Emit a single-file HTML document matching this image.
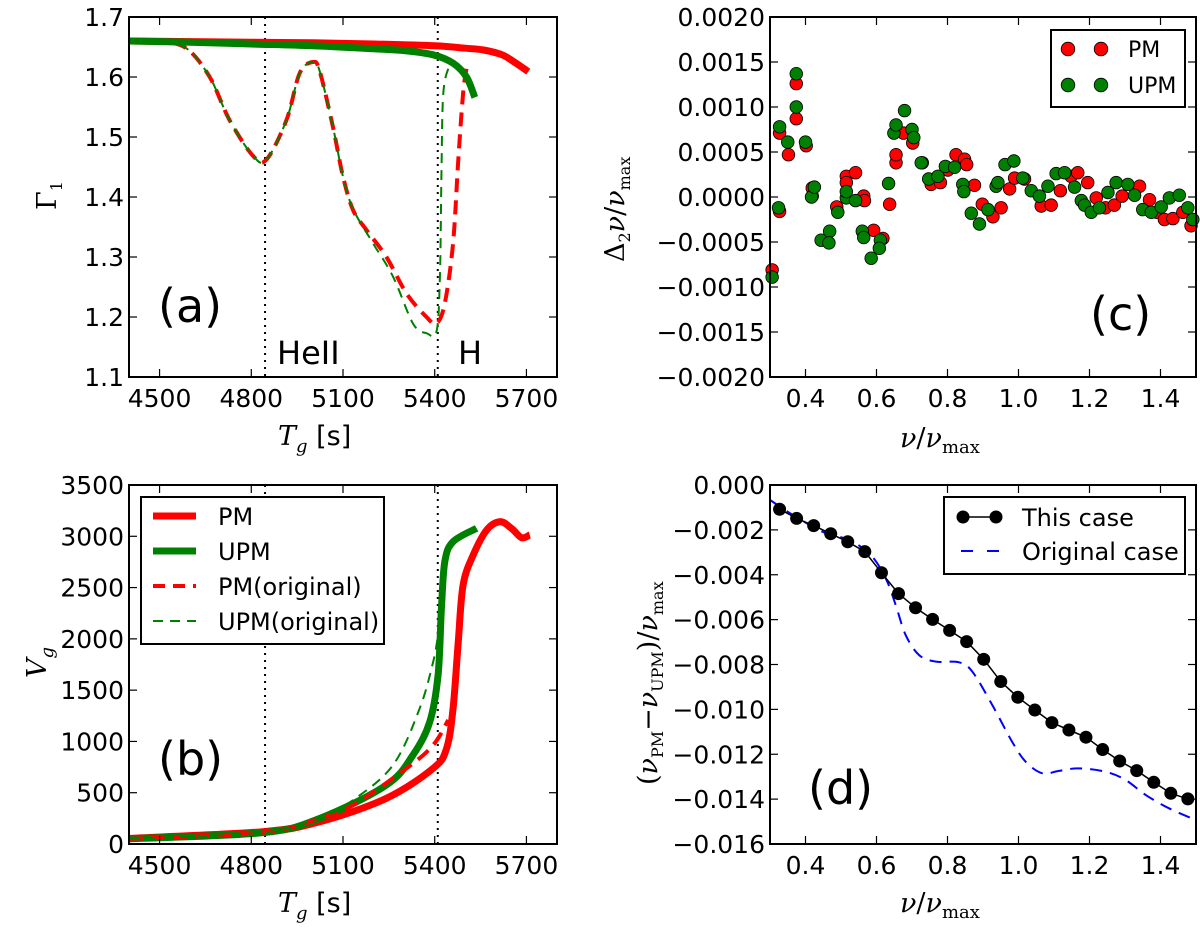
<!DOCTYPE html>
<html><head><meta charset="utf-8"><title>Four-panel figure</title>
<style>
html,body{margin:0;padding:0;background:#fff;}
svg{display:block;}
.tk{font-family:"DejaVu Sans","Liberation Sans",sans-serif;font-size:25px;fill:#000;}
.lg{font-family:"DejaVu Sans","Liberation Sans",sans-serif;font-size:24px;fill:#000;}
.pl{font-family:"DejaVu Sans","Liberation Sans",sans-serif;font-size:46px;fill:#000;}
.mt{font-family:"DejaVu Serif","Liberation Serif",serif;font-size:27px;fill:#000;}
</style></head>
<body>
<svg id="fig" width="1200" height="930" viewBox="0 0 1200 930" xmlns="http://www.w3.org/2000/svg"></svg>
<script>
// ---------- Panel (a): Gamma1 vs Tg ----------
const aPM_T = [4400,4600,4800,5000,5200,5400,5500,5560,5620,5660,5706];
const aPM_G = [1.660,1.659,1.658,1.657,1.655,1.652,1.648,1.645,1.637,1.625,1.609];
const aUPM_T = [4400,4600,4800,5000,5200,5300,5395,5460,5504,5531];
const aUPM_G = [1.660,1.658,1.655,1.652,1.647,1.644,1.637,1.623,1.600,1.566];
const aPMo_T = [4400,4500,4587,4664,4729,4805,4849,4915,4958,5002,5024,5067,5100,5133,5177,5242,5308,5373,5406,5433,5460,5477,5493,5504];
const aPMo_G = [1.660,1.659,1.648,1.600,1.528,1.469,1.462,1.528,1.606,1.625,1.609,1.517,1.434,1.378,1.345,1.300,1.239,1.200,1.189,1.223,1.323,1.462,1.573,1.614];
const aUPMo_T = [4400,4500,4587,4664,4729,4805,4849,4915,4958,5002,5024,5067,5100,5133,5198,5264,5329,5373,5406,5417,5422,5428,5449,5460];
const aUPMo_G = [1.660,1.659,1.648,1.600,1.528,1.469,1.462,1.528,1.606,1.625,1.609,1.517,1.434,1.380,1.323,1.267,1.189,1.173,1.176,1.267,1.434,1.573,1.620,1.622];
const aXTicks = [4500,4800,5100,5400,5700];
const aYTicks = [1.1,1.2,1.3,1.4,1.5,1.6,1.7];
const vLines = [4845,5410];
// ---------- Panel (b): Vg vs Tg ----------
const bPM_T = [4400,4838,5024,5242,5395,5439,5460,5477,5493,5526,5570,5613,5651,5684,5711];
const bPM_V = [55,120,217,446,738,933,1323,1973,2525,2818,3061,3142,3078,2986,3013];
const bUPM_T = [4400,4838,5024,5242,5329,5384,5411,5422,5433,5460,5537];
const bUPM_V = [50,110,250,575,868,1192,1648,2298,2752,2947,3078];
const bPMo_T = [4400,4838,5024,5133,5308,5395,5444];
const bPMo_V = [50,112,250,380,738,965,1209];
const bUPMo_T = [4400,4838,5024,5133,5264,5351,5395,5411];
const bUPMo_V = [50,112,255,429,770,1323,1777,2038];
const bYTicks = [0,500,1000,1500,2000,2500,3000,3500];
// ---------- Panel (c): second differences (units 1e-4) ----------
const cPM_x = [0.306,0.327,0.327,0.352,0.374,0.374,0.402,0.419,0.419,0.488,0.515,0.515,0.541,0.564,0.566,0.592,0.618,0.637,0.655,0.655,0.676,0.702,0.729,0.754,0.780,0.801,0.824,0.848,0.854,0.876,0.898,0.928,0.951,0.975,0.989,1.017,1.064,1.092,1.118,1.148,1.167,1.195,1.219,1.245,1.270,1.292,1.341,1.369,1.390,1.411,1.435,1.463,1.486];
const cPM_y = [-8.1,-1.6,7.1,4.7,8.7,12.6,5.7,1.0,0.1,-1.1,2.3,1.6,2.7,0.1,-0.4,-3.7,-4.6,-0.8,3.8,4.7,7.1,6.0,3.8,1.4,1.6,3.0,4.7,4.2,3.6,1.3,-0.8,-2.2,-1.2,0.9,2.1,2.0,-1.0,-0.9,0.7,2.3,2.7,1.6,-0.1,-1.2,-0.9,0.1,1.2,-0.3,-1.7,-2.5,-2.4,-1.7,-3.2];
const cUPM_x = [0.306,0.324,0.327,0.350,0.374,0.374,0.400,0.417,0.425,0.444,0.468,0.466,0.491,0.515,0.515,0.541,0.560,0.564,0.585,0.611,0.608,0.634,0.649,0.655,0.679,0.700,0.705,0.726,0.747,0.773,0.794,0.820,0.843,0.846,0.867,0.890,0.914,0.937,0.942,0.962,0.987,1.012,1.036,1.059,1.083,1.106,1.130,1.158,1.177,1.186,1.205,1.228,1.252,1.275,1.308,1.327,1.350,1.374,1.402,1.425,1.453,1.477,1.491];
const cUPM_y = [-8.9,-1.2,7.8,6.1,13.7,10.0,6.1,0.0,1.1,-4.8,-3.8,-5.1,-1.7,-0.1,0.6,-0.4,-3.8,-4.5,-6.8,-4.8,-5.7,1.5,7.1,8.0,9.6,7.5,6.6,3.8,2.0,2.3,3.4,3.3,1.4,0.6,-1.8,-3.0,-1.4,1.2,1.6,3.6,4.0,2.1,0.7,0.1,1.2,2.6,2.7,1.1,-0.4,-0.9,-1.7,-1.2,0.5,1.6,1.4,0.2,-1.4,-1.7,-1.1,-0.1,0.2,-1.2,-2.5];
const cYTicks = [-20,-15,-10,-5,0,5,10,15,20];
const cYLabels = ["\u22120.0020","\u22120.0015","\u22120.0010","\u22120.0005","0.0000","0.0005","0.0010","0.0015","0.0020"];
const nuTicks = [0.4,0.6,0.8,1.0,1.2,1.4];
const nuLabels = ["0.4","0.6","0.8","1.0","1.2","1.4"];
// ---------- Panel (d): frequency differences (units 1e-3) ----------
const dThis_x = [0.327,0.375,0.423,0.471,0.519,0.567,0.614,0.662,0.710,0.758,0.806,0.854,0.902,0.950,0.998,1.046,1.094,1.142,1.190,1.237,1.285,1.333,1.381,1.429,1.477];
const dThis_y = [-1.08,-1.49,-1.81,-2.17,-2.53,-2.97,-3.91,-4.84,-5.47,-5.99,-6.48,-6.98,-7.77,-8.76,-9.46,-10.03,-10.59,-10.92,-11.24,-11.79,-12.30,-12.73,-13.25,-13.74,-13.99];
const dOrig_x = [0.300,0.372,0.457,0.523,0.584,0.626,0.654,0.682,0.720,0.767,0.832,0.870,0.926,0.982,1.020,1.067,1.114,1.170,1.246,1.302,1.358,1.424,1.499];
const dOrig_y = [-0.67,-1.41,-2.15,-2.45,-3.12,-4.16,-5.35,-6.68,-7.58,-7.87,-7.90,-8.32,-9.80,-11.44,-12.33,-12.85,-12.74,-12.63,-12.78,-13.15,-13.81,-14.41,-14.93];
const dYTicks = [0,-2,-4,-6,-8,-10,-12,-14,-16];
const dYLabels = ["0.000","\u22120.002","\u22120.004","\u22120.006","\u22120.008","\u22120.010","\u22120.012","\u22120.014","\u22120.016"];

const NS = "http://www.w3.org/2000/svg";
const fig = document.getElementById('fig');
function mk(tag, attrs, parent){ const e=document.createElementNS(NS,tag); for(const k in attrs) e.setAttribute(k,attrs[k]); (parent||fig).appendChild(e); return e; }
function lin(d0,d1,p0,p1){ return v => p0+(v-d0)*(p1-p0)/(d1-d0); }
function pathD(xs,ys,sx,sy,smooth){
  const P=xs.map((v,i)=>[sx(v),sy(ys[i])]);
  if(!smooth) return P.map((p,i)=>(i?'L':'M')+p[0].toFixed(1)+' '+p[1].toFixed(1)).join(' ');
  let d='M'+P[0][0].toFixed(1)+' '+P[0][1].toFixed(1);
  for(let i=0;i<P.length-1;i++){
    const p0=P[Math.max(0,i-1)],p1=P[i],p2=P[i+1],p3=P[Math.min(P.length-1,i+2)];
    const c1=[p1[0]+(p2[0]-p0[0])/6,p1[1]+(p2[1]-p0[1])/6];
    const c2=[p2[0]-(p3[0]-p1[0])/6,p2[1]-(p3[1]-p1[1])/6];
    d+=' C'+c1[0].toFixed(1)+' '+c1[1].toFixed(1)+' '+c2[0].toFixed(1)+' '+c2[1].toFixed(1)+' '+p2[0].toFixed(1)+' '+p2[1].toFixed(1);
  }
  return d;
}

function axes(g,L,T,R,B,sx,sy,xt,xl,yt,yl,name){
  xt.forEach((v,i)=>{
    const x=sx(v);
    const t1=mk('line',{x1:x,y1:B,x2:x,y2:B-8,stroke:'#000','stroke-width':1.2},g);
    
    
    mk('line',{x1:x,y1:T,x2:x,y2:T+8,stroke:'#000','stroke-width':1.2},g);
    const tx=mk('text',{x:x,y:B+30,'text-anchor':'middle',class:'tk'},g);
    tx.textContent=xl[i];
    
    
  });
  yt.forEach((v,i)=>{
    const y=sy(v);
    const t1=mk('line',{x1:L,y1:y,x2:L+8,y2:y,stroke:'#000','stroke-width':1.2},g);
    
    
    mk('line',{x1:R,y1:y,x2:R-8,y2:y,stroke:'#000','stroke-width':1.2},g);
    const tx=mk('text',{x:L-5,y:y+9,'text-anchor':'end',class:'tk'},g);
    tx.textContent=yl[i];
    
    
  });
  const fr=mk('rect',{x:L,y:T,width:R-L,height:B-T,fill:'none',stroke:'#000','stroke-width':2},g);
  
  
}
function clip(id,L,T,R,B){ const d=mk('clipPath',{id:id}); mk('rect',{x:L,y:T,width:R-L,height:B-T},d); }
function line(g,xs,ys,sx,sy,color,w,dash,name,cp,smooth){
  const p=mk('path',{d:pathD(xs,ys,sx,sy,smooth),fill:'none',stroke:color,'stroke-width':w,'stroke-dasharray':dash||'none','stroke-linejoin':'round','clip-path':'url(#'+cp+')'},g);
  
  
  return p;
}
function txt(g,x,y,s,cls,name,extra){ const t=mk('text',Object.assign({x:x,y:y,class:cls},extra||{}),g); t.innerHTML=s;   return t; }

// ===== Panel A =====
(function(){
  const L=129,T=17,R=557,B=377;
  const g=mk('g',{});  
  clip('ca',L,T,R,B);
  const sx=lin(4400,5800,L,R), sy=lin(1.1,1.7,B,T);
  vLines.forEach(v=>{ const l=mk('line',{x1:sx(v),y1:T,x2:sx(v),y2:B,stroke:'#000','stroke-width':2,'stroke-dasharray':'2 5'},g);   });
  line(g,aPMo_T,aPMo_G,sx,sy,'#ff0000',4,'14 8','pm-original-line','ca',true);
  line(g,aUPMo_T,aUPMo_G,sx,sy,'#008000',2,'10 7','upm-original-line','ca',true);
  line(g,aPM_T,aPM_G,sx,sy,'#ff0000',7,null,'pm-line','ca',true);
  line(g,aUPM_T,aUPM_G,sx,sy,'#008000',7,null,'upm-line','ca',true);
  axes(g,L,T,R,B,sx,sy,aXTicks,aXTicks.map(String),aYTicks,aYTicks.map(v=>v.toFixed(1)),'panel-a');
  txt(g,158,322,'(a)','pl','panel-a-label');
  txt(g,277,364,'HeII','pl','heii-label',{style:'font-size:32px'});
  txt(g,458,364,'H','pl','h-label',{style:'font-size:32px'});
  txt(g,278,445,'<tspan font-style="italic">T</tspan><tspan font-style="italic" dy="7" font-size="18">g</tspan><tspan dy="-7" font-family="DejaVu Sans"> [s]</tspan>','mt','x-axis-title-a');
  txt(g,0,0,'Γ<tspan dy="6" font-size="16">1</tspan>','mt','y-axis-title-a',{transform:'translate(56,210) rotate(-90)'});
})();

// ===== Panel B =====
(function(){
  const L=129,T=485,R=557,B=844;
  const g=mk('g',{});  
  clip('cb',L,T,R,B);
  const sx=lin(4400,5800,L,R), sy=lin(0,3500,B,T);
  vLines.forEach(v=>{ const l=mk('line',{x1:sx(v),y1:T,x2:sx(v),y2:B,stroke:'#000','stroke-width':2,'stroke-dasharray':'2 5'},g);   });
  line(g,bPM_T,bPM_V,sx,sy,'#ff0000',7,null,'pm-line','cb',true);
  line(g,bUPM_T,bUPM_V,sx,sy,'#008000',7,null,'upm-line','cb',true);
  line(g,bPMo_T,bPMo_V,sx,sy,'#ff0000',4,'14 8','pm-original-line','cb',true);
  line(g,bUPMo_T,bUPMo_V,sx,sy,'#008000',2,'10 7','upm-original-line','cb',true);
  axes(g,L,T,R,B,sx,sy,aXTicks,aXTicks.map(String),bYTicks,bYTicks.map(String),'panel-b');
  txt(g,158,775,'(b)','pl','panel-b-label');
  txt(g,278,912,'<tspan font-style="italic">T</tspan><tspan font-style="italic" dy="7" font-size="18">g</tspan><tspan dy="-7" font-family="DejaVu Sans"> [s]</tspan>','mt','x-axis-title-b');
  txt(g,0,0,'<tspan font-style="italic">V</tspan><tspan font-style="italic" dy="7" font-size="18">g</tspan>','mt','y-axis-title-b',{transform:'translate(46,678) rotate(-90)'});
  const lg=mk('g',{},g);  
  mk('rect',{x:141,y:497,width:243,height:147,fill:'#fff',stroke:'#000','stroke-width':2},lg);
  const items=[['PM','#ff0000',7,null],['UPM','#008000',7,null],['PM(original)','#ff0000',4,'12 8'],['UPM(original)','#008000',2,'10 7']];
  items.forEach((it,i)=>{ const y=516+i*35;
    const e=mk('line',{x1:153,y1:y,x2:196,y2:y,stroke:it[1],'stroke-width':it[2],'stroke-dasharray':it[3]||'none'},lg);
    
    
    txt(lg,218,y+9,it[0],'lg','legend-label');
  });
})();

// ===== Panel C =====
(function(){
  const L=770,T=17,R=1196,B=377;
  const g=mk('g',{});  
  clip('cc',L-7,T,R+7,B);
  const sx=lin(0.3,1.5,L,R), sy=lin(-20,20,B,T);
  const mg=mk('g',{'clip-path':'url(#cc)'},g);
  cPM_x.forEach((v,i)=>{ const c=mk('circle',{cx:sx(v),cy:sy(cPM_y[i]),r:6.3,fill:'#ff0000',stroke:'#000','stroke-width':0.8},mg);   });
  cUPM_x.forEach((v,i)=>{ const c=mk('circle',{cx:sx(v),cy:sy(cUPM_y[i]),r:6.3,fill:'#008000',stroke:'#000','stroke-width':0.8},mg);   });
  axes(g,L,T,R,B,sx,sy,nuTicks,nuLabels,cYTicks,cYLabels,'panel-c');
  txt(g,1090,330,'(c)','pl','panel-c-label');
  txt(g,900,447,'<tspan font-style="italic">ν</tspan>/<tspan font-style="italic">ν</tspan><tspan dy="6" font-size="18">max</tspan>','mt','x-axis-title-c');
  txt(g,0,0,'Δ<tspan dy="6" font-size="16">2</tspan><tspan dy="-6" font-style="italic">ν</tspan>/<tspan font-style="italic">ν</tspan><tspan dy="6" font-size="16">max</tspan>','mt','y-axis-title-c',{transform:'translate(624,262) rotate(-90)'});
  const lg=mk('g',{},g);  
  mk('rect',{x:1051,y:30,width:134,height:77,fill:'#fff',stroke:'#000','stroke-width':2},lg);
  [['PM','#ff0000',49],['UPM','#008000',85]].forEach(it=>{
    [1068,1101].forEach(cx=>{ const c=mk('circle',{cx:cx,cy:it[2],r:6.8,fill:it[1],stroke:'#000','stroke-width':0.8},lg);   });
    txt(lg,1128,it[2]+8,it[0],'lg','legend-label',{style:'font-size:22px'});
  });
})();

// ===== Panel D =====
(function(){
  const L=770,T=485,R=1196,B=844;
  const g=mk('g',{});  
  clip('cd',L,T,R,B);
  const sx=lin(0.3,1.5,L,R), sy=lin(-16,0,B,T);
  line(g,dOrig_x,dOrig_y,sx,sy,'#0000ff',2,'12 8','original-case-line','cd',true);
  line(g,dThis_x,dThis_y,sx,sy,'#000',1.5,null,'this-case-line','cd',false);
  dThis_x.forEach((v,i)=>{ const c=mk('circle',{cx:sx(v),cy:sy(dThis_y[i]),r:6.5,fill:'#000'},g);   });
  axes(g,L,T,R,B,sx,sy,nuTicks,nuLabels,dYTicks,dYLabels,'panel-d');
  txt(g,808,804,'(d)','pl','panel-d-label');
  txt(g,900,912,'<tspan font-style="italic">ν</tspan>/<tspan font-style="italic">ν</tspan><tspan dy="6" font-size="18">max</tspan>','mt','x-axis-title-d');
  txt(g,0,0,'(<tspan font-style="italic">ν</tspan><tspan dy="6" font-size="16">PM</tspan><tspan dy="-6">−</tspan><tspan font-style="italic">ν</tspan><tspan dy="6" font-size="16">UPM</tspan><tspan dy="-6">)/</tspan><tspan font-style="italic">ν</tspan><tspan dy="6" font-size="16">max</tspan>','mt','y-axis-title-d',{transform:'translate(657,785) rotate(-90)'});
  const lg=mk('g',{},g);  
  mk('rect',{x:944,y:497,width:241,height:77,fill:'#fff',stroke:'#000','stroke-width':2},lg);
  const e1=mk('line',{x1:963,y1:517,x2:996,y2:517,stroke:'#000','stroke-width':1.5},lg);
   
  [963,996].forEach(cx=>mk('circle',{cx:cx,cy:517,r:6.5,fill:'#000'},lg));
  txt(lg,1022,526,'This case','lg','legend-label');
  const e2=mk('line',{x1:961,y1:551,x2:1000,y2:551,stroke:'#0000ff','stroke-width':2,'stroke-dasharray':'12 14'},lg);
   
  txt(lg,1022,560,'Original case','lg','legend-label');
})();
</script>
</body></html>
